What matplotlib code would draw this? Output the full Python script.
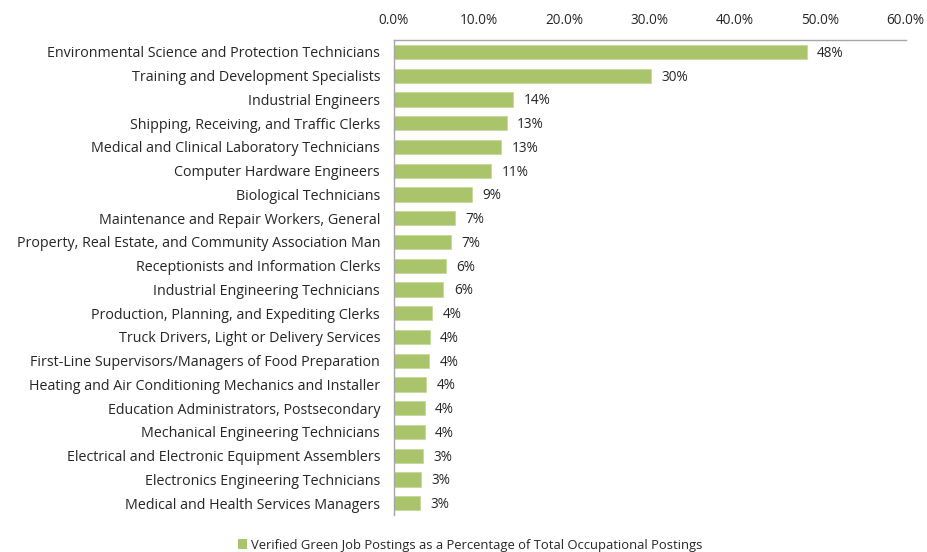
import matplotlib
matplotlib.use("Agg")
import matplotlib.pyplot as plt
from matplotlib.patches import Patch
from matplotlib.ticker import FuncFormatter

categories = [
    "Environmental Science and Protection Technicians",
    "Training and Development Specialists",
    "Industrial Engineers",
    "Shipping, Receiving, and Traffic Clerks",
    "Medical and Clinical Laboratory Technicians",
    "Computer Hardware Engineers",
    "Biological Technicians",
    "Maintenance and Repair Workers, General",
    "Property, Real Estate, and Community Association Man",
    "Receptionists and Information Clerks",
    "Industrial Engineering Technicians",
    "Production, Planning, and Expediting Clerks",
    "Truck Drivers, Light or Delivery Services",
    "First-Line Supervisors/Managers of Food Preparation",
    "Heating and Air Conditioning Mechanics and Installer",
    "Education Administrators, Postsecondary",
    "Mechanical Engineering Technicians",
    "Electrical and Electronic Equipment Assemblers",
    "Electronics Engineering Technicians",
    "Medical and Health Services Managers",
]
values = [48.4, 30.1, 14.0, 13.2, 12.6, 11.4, 9.2, 7.1, 6.7, 6.1, 5.8,
          4.5, 4.2, 4.1, 3.8, 3.6, 3.6, 3.4, 3.2, 3.1]
xticks = [0, 10, 20, 30, 40, 50, 60]
legend_label = "Verified Green Job Postings as a Percentage of Total Occupational Postings"

plt.rcParams['font.family'] = ['Open Sans', 'DejaVu Sans']
bar_color = "#A9C46A"
text_color = "#262626"

fig = plt.figure(figsize=(9.27, 5.52), dpi=100)
ax = fig.add_axes([0.425, 0.067, 0.552, 0.8605])

y = list(range(len(categories)))
ax.barh(y, values, height=0.6, color=bar_color, edgecolor="#C5D89A", linewidth=0.6)
ax.set_ylim(len(categories) - 0.5, -0.5)
ax.set_xlim(0, 60)
ax.set_yticks(y)
ax.set_yticklabels(categories, fontsize=10.3, color=text_color)
ax.xaxis.tick_top()
ax.set_xticks(xticks)
ax.xaxis.set_major_formatter(FuncFormatter(lambda v, p: f"{v:.1f}%"))
ax.tick_params(axis='x', length=0, labelsize=9.8, labelcolor=text_color, pad=9)
ax.tick_params(axis='y', length=0, pad=10)

for s in ["right", "bottom"]:
    ax.spines[s].set_visible(False)
for s in ["top", "left"]:
    ax.spines[s].set_color("#A6A6A6")
    ax.spines[s].set_linewidth(1.0)

for yi, v in zip(y, values):
    ax.annotate(f"{round(v)}%", xy=(v, yi), xytext=(7.5, -1), textcoords="offset points",
                va="center", ha="left", fontsize=9.8, color=text_color)

fig.legend(handles=[Patch(facecolor=bar_color, edgecolor="none")], labels=[legend_label],
           loc="center", bbox_to_anchor=(470 / 927, 1 - 545 / 552), frameon=False,
           fontsize=9.4, handlelength=0.7, handleheight=0.7, handletextpad=0.3,
           labelcolor=text_color)

fig.savefig("out.png", dpi=100)
